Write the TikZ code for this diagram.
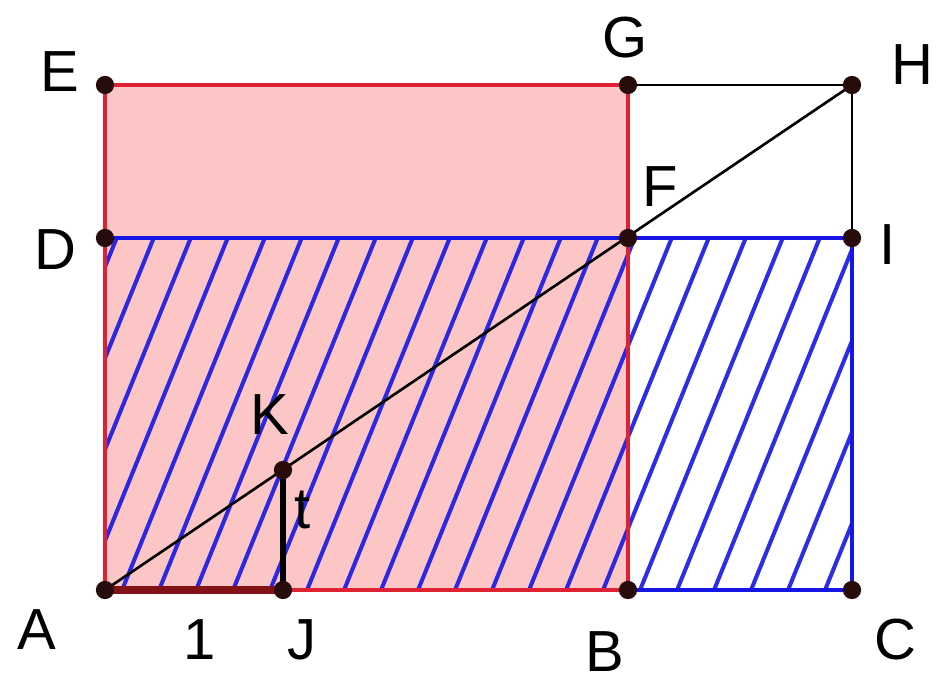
\documentclass[tikz,border=0pt]{standalone}
\usepackage{fontspec}
\setmainfont{Liberation Sans}
\usetikzlibrary{calc}
\definecolor{rectpink}{RGB}{253,198,198}
\definecolor{rectred}{RGB}{222,34,52}
\definecolor{rectblue}{RGB}{22,22,228}
\definecolor{segred}{RGB}{130,18,22}
\definecolor{dotdark}{RGB}{40,12,12}
\begin{document}
\begin{tikzpicture}[
    x=0.02cm, y=-0.02cm,
    lbl/.style={font=\fontsize{33}{35}\selectfont, text=black, inner sep=0pt},
    redline/.style={draw=rectred, line width=2.4pt},
    blueline/.style={draw=rectblue, line width=2.4pt},
    hatchline/.style={draw=rectblue, line width=2.3pt, opacity=0.9},
    thinline/.style={draw=black, line width=1.5pt},
    dot/.style={fill=dotdark}
]
    \useasboundingbox (0,0) rectangle (944,682);

    % points
    \coordinate (A) at (105,590);
    \coordinate (J) at (283,590);
    \coordinate (B) at (628,590);
    \coordinate (C) at (852,590);
    \coordinate (D) at (105,238);
    \coordinate (F) at (628,238);
    \coordinate (I) at (852,238);
    \coordinate (E) at (105,85);
    \coordinate (G) at (628,85);
    \coordinate (H) at (852,85);
    \coordinate (K) at (283,470);

    \fill[rectpink] (A) rectangle (G);

    % hatching of ACID
    \begin{scope}
        \clip (A) rectangle (I);
        \foreach \k in {-4,...,20}
            \draw[hatchline] ({710-37*\k},600) -- ++(154,-380);
    \end{scope}

    \draw[blueline] (A) -- (C) -- (I) -- (D);
    \draw[redline] (A) -- (B) -- (G) -- (E) -- cycle;
    \draw[thinline] (G) -- (H) -- (I);
    \draw[thinline] (A) -- (H);
    \draw[draw=segred, line width=4pt] (A) -- (J);
    \draw[draw=black, line width=3.4pt] (J) -- (K);

    \foreach \p in {A,J,B,C,D,F,I,E,G,H,K}
        \fill[dot] (\p) circle (5.2pt);

    \node[lbl] (lA) at (37,630) {A};
    \node[lbl] (l1) at (200,640) {1};
    \node[lbl] (lJ) at (302,640) {J};
    \node[lbl] (lB) at (605,652) {B};
    \node[lbl] (lC) at (895,640) {C};
    \node[lbl] (lD) at (55,250) {D};
    \node[lbl] (lE) at (60,72) {E};
    \node[lbl] (lG) at (625,38) {G};
    \node[lbl] (lH) at (912,65) {H};
    \node[lbl] (lF) at (660,187) {F};
    \node[lbl] (lI) at (888,245) {I};
    \node[lbl] (lK) at (270,415) {K};
    \node[lbl] (lt) at (303,510) {t};
\end{tikzpicture}
\end{document}
